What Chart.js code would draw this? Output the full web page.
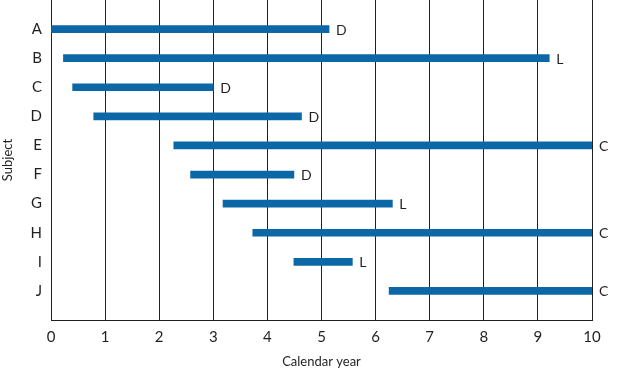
<!DOCTYPE html>
<html>
<head>
<meta charset="utf-8">
<script src="https://cdn.jsdelivr.net/npm/chart.js@4/dist/chart.umd.min.js"></script>
<style>
  html, body { margin: 0; padding: 0; background: #fff; }
  #wrap { width: 623px; height: 374px; }
</style>
</head>
<body>
<div id="wrap"><canvas id="subjectChart"></canvas></div>
<script>
// Follow-up per subject, in calendar years
const subjects = ["A", "B", "C", "D", "E", "F", "G", "H", "I", "J"];
const startYear = [0, 0.23, 0.4, 0.79, 2.27, 2.58, 3.18, 3.73, 4.49, 6.25];
const endYear = [5.14, 9.21, 3.0, 4.63, 10, 4.49, 6.31, 10, 5.57, 10];
const outcome = ["D", "L", "D", "D", "C", "D", "L", "C", "L", "C"];
const xTicks = [0, 1, 2, 3, 4, 5, 6, 7, 8, 9, 10];

const ink = "#231f20";
const fontFamily = "Lato, 'DejaVu Sans', sans-serif";

// write D / L / C just after the end of each bar
const endLabels = {
    id: "endLabels",
    afterDatasetsDraw(chart) {
        const c = chart.ctx;
        const meta = chart.getDatasetMeta(0);
        c.save();
        c.fillStyle = ink;
        c.font = "14px " + fontFamily;
        c.textBaseline = "middle";
        c.textAlign = "left";
        meta.data.forEach((bar, i) => {
            c.fillText(outcome[i], bar.x + 7, bar.y + 1);
        });
        c.restore();
    }
};

const ctx = document.getElementById("subjectChart").getContext("2d");

new Chart(ctx, {
    type: "bar",
    data: {
        datasets: [
            {
                data: subjects.map((s, i) => ({ x: [startYear[i], endYear[i]], y: i + 1 })),
                backgroundColor: "#0b67a5",
                borderWidth: 0,
                borderSkipped: false,
                barThickness: 7,
            },
        ],
    },
    options: {
        indexAxis: "y",
        responsive: true,
        maintainAspectRatio: false,
        animation: false,
        layout: { padding: { top: 0, right: 31, left: 0, bottom: 0 } },
        scales: {
            x: {
                type: "linear",
                min: 0,
                max: 10,
                afterBuildTicks: (scale) => { scale.ticks = xTicks.map(v => ({ value: v })); },
                afterFit: (scale) => { scale.height = 54; scale.paddingLeft = 0; scale.paddingRight = 0; },
                grid: { color: ink, lineWidth: 1, drawTicks: false },
                border: { color: ink, width: 1 },
                ticks: { color: ink, font: { size: 15, family: fontFamily }, padding: 8 },
                title: {
                    display: true,
                    text: "Calendar year",
                    color: ink,
                    font: { size: 13, family: fontFamily },
                    padding: { top: 5 },
                },
            },
            y: {
                type: "linear",
                reverse: true,
                offset: false,
                min: 0,
                max: 11,
                afterBuildTicks: (scale) => { scale.ticks = subjects.map((s, i) => ({ value: i + 1 })); },
                afterFit: (scale) => { scale.width = 51; scale.paddingTop = 0; scale.paddingBottom = 0; },
                grid: { display: false, drawTicks: false, offset: false },
                border: { color: ink, width: 1 },
                ticks: {
                    color: ink,
                    font: { size: 15, family: fontFamily },
                    padding: 9,
                    callback: (v) => subjects[v - 1] || "",
                },
                title: {
                    display: true,
                    text: "Subject",
                    color: ink,
                    font: { size: 13, family: fontFamily },
                    padding: 0,
                },
            },
        },
        plugins: {
            legend: { display: false },
            tooltip: { enabled: false },
        },
    },
    plugins: [endLabels],
});
</script>
</body>
</html>
